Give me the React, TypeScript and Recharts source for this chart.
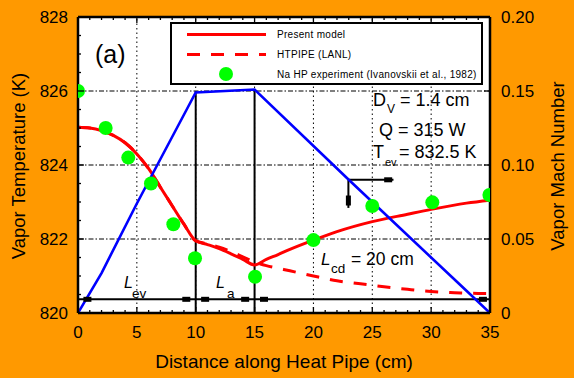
import React from 'react';
import {
  ComposedChart,
  Line,
  Scatter,
  XAxis,
  YAxis,
  ReferenceLine,
  CartesianGrid,
} from 'recharts';

const FONT = '"Liberation Sans", Arial, Helvetica, sans-serif';

// ---- data ----
const modelDistance = [0, 1, 2, 3, 4, 5, 6, 7, 8, 9, 10, 11, 12, 13, 14, 15, 16, 17, 18, 20, 22, 25, 28, 30, 33, 35];
const presentModelT = [825.02, 825.0, 824.93, 824.8, 824.6, 824.3, 823.9, 823.4, 822.9, 822.4, 821.95, 821.85, 821.74, 821.6, 821.45, 821.3, 821.45, 821.58, 821.72, 821.97, 822.2, 822.47, 822.67, 822.8, 822.97, 823.05];

const htpipeDistance = [0, 1, 2, 3, 4, 5, 6, 7, 8, 9, 10, 11, 12, 13, 14, 15, 16, 17, 18, 19, 20, 22, 24, 26, 28, 30, 32, 34, 35];
const htpipeT = [825.02, 825.0, 824.93, 824.8, 824.6, 824.3, 823.9, 823.4, 822.9, 822.4, 821.95, 821.87, 821.78, 821.66, 821.52, 821.38, 821.28, 821.21, 821.14, 821.07, 821.0, 820.87, 820.79, 820.71, 820.64, 820.58, 820.55, 820.53, 820.53];

const machDistance = [0, 2, 5, 9.2, 10, 15, 23, 33, 35];
const machNumber = [0, 0.027, 0.074, 0.137, 0.149, 0.151, 0.09, 0.015, 0];

const expDistance = [0, 2.35, 4.27, 6.2, 8.1, 9.94, 15.04, 20, 25, 30.1, 34.95];
const expT = [826.0, 825.0, 824.2, 823.5, 822.4, 821.48, 820.98, 821.97, 822.89, 822.99, 823.19];

// section boundaries (evaporator / adiabatic / condenser)
const sectionBounds = [10, 15];
const sectionTopT = [826.0, 826.05];
const dimensionLineT = 820.37;
const dimensionArrowX = [0.8, 9.2, 10.8, 14.2, 15.8, 34.4];

// axis indicator arrow for the Mach curve
const indicatorStart = { x: 22.97, y: 0.09 };
const indicatorRightEnd = 26.8;
const indicatorDownEnd = 0.071;

// ticks
const xTicks = Array.from({ length: 36 }, (_, i) => i);
const xMajor = [0, 5, 10, 15, 20, 25, 30, 35];
const tTicks = Array.from({ length: 17 }, (_, i) => 820 + i * 0.5);
const machTicks = [0, 0.05, 0.1, 0.15, 0.2];
const gridX = [5, 10, 15, 20, 25, 30];
const gridT = [822, 824, 826];

// ---- layout ----
const W = 574;
const H = 378;
const LEFT_W = 78;
const RIGHT_W = 84;
const TOP_H = 17;
const BOTTOM_H = 65;
const PLOT_W = W - LEFT_W - RIGHT_W;
const PLOT_H = H - TOP_H - BOTTOM_H;

const BottomTick = (p: any) => {
  const v = p.payload.value;
  const major = xMajor.includes(v);
  return (
    <g>
      {v > 0 && v < 35 && (
        <line x1={p.x} x2={p.x} y1={p.y} y2={p.y - (major ? 6 : 3)} stroke="#000" strokeWidth={1.3} />
      )}
      {major && (
        <text x={p.x} y={p.y + 25} textAnchor="middle" fontSize={17} fontFamily={FONT} fill="#000">
          {v}
        </text>
      )}
    </g>
  );
};

const TopTick = (p: any) => {
  const v = p.payload.value;
  const major = xMajor.includes(v);
  if (v <= 0 || v >= 35) return <g />;
  return <line x1={p.x} x2={p.x} y1={p.y} y2={p.y + (major ? 6 : 3)} stroke="#000" strokeWidth={1.3} />;
};

const LeftTick = (p: any) => {
  const v = p.payload.value;
  const major = Math.abs(v - Math.round(v / 2) * 2) < 1e-6;
  return (
    <g>
      {v > 820 && v < 828 && (
        <line x1={p.x} x2={p.x + (major ? 6 : 3)} y1={p.y} y2={p.y} stroke="#000" strokeWidth={1.3} />
      )}
      {major && (
        <text x={p.x - 10} y={p.y + 6} textAnchor="end" fontSize={17} fontFamily={FONT} fill="#000">
          {v}
        </text>
      )}
    </g>
  );
};

const fmtMach = (v: number) => (v === 0 ? '0' : v.toFixed(2));

const RightTick = (p: any) => {
  const v = p.payload.value;
  return (
    <g>
      {v > 0 && v < 0.2 && <line x1={p.x} x2={p.x - 6} y1={p.y} y2={p.y} stroke="#000" strokeWidth={1.3} />}
      <text x={p.x + 11} y={p.y + 6} textAnchor="start" fontSize={17} fontFamily={FONT} fill="#000">
        {fmtMach(v)}
      </text>
    </g>
  );
};

// experiment marker, clipped to the plotting area like in the original
const GreenDot = (p: any) => {
  const id = 'expClip' + p.index;
  return (
    <g key={'exp' + p.index}>
      <defs>
        <clipPath id={id}>
          <rect x={LEFT_W} y={TOP_H} width={PLOT_W} height={PLOT_H} />
        </clipPath>
      </defs>
      <circle cx={p.cx} cy={p.cy} r={7} fill="#00FF00" stroke="none" clipPath={`url(#${id})`} />
    </g>
  );
};
const ArrowHeadH = (p: any) => <rect x={p.cx - 4} y={p.cy - 2.5} width={8} height={5} fill="#000" />;
const ArrowHeadV = (p: any) => <rect x={p.cx - 2.5} y={p.cy - 5} width={5} height={10} fill="#000" />;

export default function App() {
  const modelData = modelDistance.map((x, i) => ({ x, y: presentModelT[i] }));
  const htpipeData = htpipeDistance.map((x, i) => ({ x, y: htpipeT[i] }));
  const machData = machDistance.map((x, i) => ({ x, y: machNumber[i] }));
  const expData = expDistance.map((x, i) => ({ x, y: expT[i] }));
  const dimArrowData = dimensionArrowX.map((x) => ({ x, y: dimensionLineT }));
  const indicatorHeadH = [{ x: indicatorRightEnd - 0.45, y: indicatorStart.y }];
  const indicatorHeadV = [{ x: indicatorStart.x, y: indicatorDownEnd + 0.005 }];

  const axisLine = { stroke: '#000', strokeWidth: 2.5 };

  return (
    <div style={{ position: 'absolute', left: 0, top: 0, width: W, height: H, background: '#FF9900', fontFamily: FONT }}>
      <ComposedChart width={W} height={H} margin={{ top: 0, right: 0, bottom: 0, left: 0 }}>
        <CartesianGrid fill="#FFFFFF" fillOpacity={1} horizontal={false} vertical={false} stroke="none" />
        <XAxis
          dataKey="x"
          type="number"
          domain={[0, 35]}
          ticks={xTicks}
          interval={0}
          height={BOTTOM_H}
          tickSize={0}
          tickMargin={0}
          tick={BottomTick}
          axisLine={axisLine}
          allowDataOverflow
        />
        <XAxis
          xAxisId="top"
          orientation="top"
          dataKey="x"
          type="number"
          domain={[0, 35]}
          ticks={xTicks}
          interval={0}
          height={TOP_H}
          tickSize={0}
          tickMargin={0}
          tick={TopTick}
          axisLine={axisLine}
          allowDataOverflow
        />
        <YAxis
          dataKey="y"
          type="number"
          domain={[820, 828]}
          ticks={tTicks}
          interval={0}
          width={LEFT_W}
          tickSize={0}
          tickMargin={0}
          tick={LeftTick}
          axisLine={axisLine}
          allowDataOverflow
        />
        <YAxis
          yAxisId="mach"
          orientation="right"
          dataKey="y"
          type="number"
          domain={[0, 0.2]}
          ticks={machTicks}
          interval={0}
          width={RIGHT_W}
          tickSize={0}
          tickMargin={0}
          tick={RightTick}
          axisLine={axisLine}
          allowDataOverflow
        />

        {gridX.map((g) => (
          <ReferenceLine key={'gx' + g} x={g} stroke="#000" strokeWidth={1} strokeDasharray="1.5 3" />
        ))}
        {gridT.map((g) => (
          <ReferenceLine key={'gt' + g} y={g} stroke="#000" strokeWidth={1} strokeDasharray="5 2 1.5 2" />
        ))}
        {sectionBounds.map((b, i) => (
          <ReferenceLine
            key={'sb' + b}
            segment={[
              { x: b, y: 820 },
              { x: b, y: sectionTopT[i] },
            ]}
            stroke="#000"
            strokeWidth={2}
          />
        ))}
        <ReferenceLine
          segment={[
            { x: 0, y: dimensionLineT },
            { x: 35, y: dimensionLineT },
          ]}
          stroke="#000"
          strokeWidth={2}
        />
        <ReferenceLine
          yAxisId="mach"
          segment={[
            { x: indicatorStart.x, y: indicatorStart.y },
            { x: indicatorRightEnd, y: indicatorStart.y },
          ]}
          stroke="#000"
          strokeWidth={2}
        />
        <ReferenceLine
          yAxisId="mach"
          segment={[
            { x: indicatorStart.x, y: indicatorStart.y },
            { x: indicatorStart.x, y: indicatorDownEnd },
          ]}
          stroke="#000"
          strokeWidth={2}
        />

        <Line
          data={htpipeData}
          dataKey="y"
          type="monotone"
          stroke="#FF0000"
          strokeWidth={3}
          strokeDasharray="13 11"
          dot={false}
          isAnimationActive={false}
        />
        <Line
          data={modelData}
          dataKey="y"
          type="monotone"
          stroke="#FF0000"
          strokeWidth={3}
          dot={false}
          isAnimationActive={false}
        />
        <Line
          data={machData}
          dataKey="y"
          yAxisId="mach"
          type="linear"
          stroke="#0000FF"
          strokeWidth={2.6}
          dot={false}
          isAnimationActive={false}
        />
        <Line
          data={expData}
          dataKey="y"
          stroke="none"
          strokeWidth={0}
          dot={GreenDot}
          activeDot={false}
          isAnimationActive={false}
        />
        <Scatter data={dimArrowData} dataKey="y" shape={ArrowHeadH} isAnimationActive={false} />
        <Scatter data={indicatorHeadH} dataKey="y" yAxisId="mach" shape={ArrowHeadH} isAnimationActive={false} />
        <Scatter data={indicatorHeadV} dataKey="y" yAxisId="mach" shape={ArrowHeadV} isAnimationActive={false} />
      </ComposedChart>

      <svg
        width={W}
        height={H}
        style={{ position: 'absolute', left: 0, top: 0, pointerEvents: 'none' }}
        fontFamily={FONT}
        fill="#000"
      >
        {/* axis titles */}
        <text x={284} y={368} textAnchor="middle" fontSize={19}>
          Distance along Heat Pipe (cm)
        </text>
        <text transform="translate(25,166) rotate(-90)" textAnchor="middle" fontSize={18.5}>
          Vapor Temperature (K)
        </text>
        <text transform="translate(564,166) rotate(-90)" textAnchor="middle" fontSize={18.5}>
          Vapor Mach Number
        </text>

        {/* legend */}
        <rect x={171} y={23} width={311} height={61} fill="#FFFFFF" stroke="#000" strokeWidth={2} />
        <line x1={187} x2={266} y1={34.5} y2={34.5} stroke="#FF0000" strokeWidth={3} />
        <line x1={187} x2={266} y1={54.5} y2={54.5} stroke="#FF0000" strokeWidth={3} strokeDasharray="13 11" />
        <circle cx={226} cy={74} r={7} fill="#00FF00" />
        <text x={277} y={37.5} fontSize={10} letterSpacing={0.3}>Present model</text>
        <text x={277} y={57.5} fontSize={10} letterSpacing={0.3}>HTPIPE (LANL)</text>
        <text x={277} y={77.5} fontSize={10} letterSpacing={0.3}>Na HP experiment (Ivanovskii et al., 1982)</text>

        {/* panel label */}
        <text x={95} y={63} fontSize={25}>(a)</text>

        {/* parameters */}
        <text x={373} y={106} fontSize={18}>D</text>
        <text x={387} y={113} fontSize={12}>V</text>
        <text x={400} y={106} fontSize={18}>= 1.4 cm</text>
        <text x={379} y={136} fontSize={18}>Q = 315 W</text>
        <text x={373} y={158} fontSize={18}>T</text>
        <text x={385} y={166} fontSize={11}>ev</text>
        <text x={399} y={158} fontSize={18}>= 832.5 K</text>

        {/* section lengths */}
        <text x={124} y={288} fontSize={16} fontStyle="italic">L</text>
        <text x={132} y={298} fontSize={13.5}>ev</text>
        <text x={216} y={288} fontSize={16} fontStyle="italic">L</text>
        <text x={227} y={298} fontSize={13.5}>a</text>
        <text x={321} y={265} fontSize={17} fontStyle="italic">L</text>
        <text x={331} y={273} fontSize={13.5}>cd</text>
        <text x={351} y={265} fontSize={17.5}>= 20 cm</text>
      </svg>
    </div>
  );
}
